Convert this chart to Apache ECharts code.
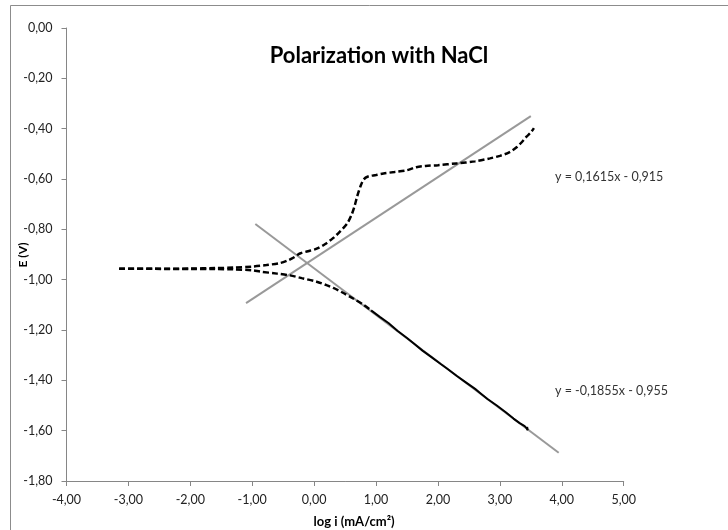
<!DOCTYPE html>
<html>
<head>
<meta charset="utf-8">
<script src="https://cdn.jsdelivr.net/npm/echarts@6/dist/echarts.min.js"></script>
<style>html,body{margin:0;padding:0;background:#fff;}#chart{width:728px;height:530px;}</style>
</head>
<body>
<div id="chart"></div>
<script>
// x ticks / y ticks
const xTicks = [-4, -3, -2, -1, 0, 1, 2, 3, 4, 5];
const yTicks = [0, -0.2, -0.4, -0.6, -0.8, -1.0, -1.2, -1.4, -1.6, -1.8];

// Anodic branch (dashed), log i vs E
const anodicX = [-3.15, -2.6, -2.0, -1.6, -1.3, -1.0, -0.77, -0.55, -0.44, -0.33, -0.23, -0.1, 0.04, 0.18, 0.31, 0.42, 0.53, 0.6, 0.65, 0.7, 0.75, 0.8, 0.87, 1.0, 1.12, 1.3, 1.5, 1.65, 1.8, 2.0, 2.3, 2.6, 2.84, 3.0, 3.15, 3.27, 3.36, 3.43, 3.5, 3.55];
const anodicE = [-0.957, -0.957, -0.956, -0.954, -0.952, -0.948, -0.942, -0.934, -0.925, -0.912, -0.896, -0.887, -0.877, -0.858, -0.834, -0.808, -0.778, -0.745, -0.71, -0.665, -0.628, -0.602, -0.59, -0.584, -0.578, -0.572, -0.565, -0.553, -0.548, -0.545, -0.538, -0.530, -0.518, -0.508, -0.494, -0.474, -0.452, -0.432, -0.415, -0.398];

// Cathodic branch, near-corrosion part (dashed)
const cathodicX = [-3.15, -2.6, -2.0, -1.6, -1.3, -1.0, -0.87, -0.6, -0.39, -0.2, 0.04, 0.2, 0.31, 0.45, 0.63, 0.8, 0.92];
const cathodicE = [-0.957, -0.957, -0.958, -0.958, -0.959, -0.963, -0.968, -0.976, -0.983, -0.994, -1.008, -1.022, -1.033, -1.05, -1.075, -1.1, -1.122];

// Cathodic branch, Tafel region (dense data, looks solid)
const tafelX = [0.92, 1.06, 1.2, 1.35, 1.5, 1.6, 1.75, 1.9, 2.05, 2.14, 2.3, 2.45, 2.6, 2.68, 2.8, 2.95, 3.1, 3.22, 3.32, 3.4, 3.43, 3.45, 3.44];
const tafelE = [-1.122, -1.148, -1.172, -1.204, -1.232, -1.252, -1.282, -1.309, -1.336, -1.352, -1.382, -1.408, -1.434, -1.450, -1.474, -1.5, -1.528, -1.552, -1.570, -1.582, -1.590, -1.598, -1.585];

// Linear fit lines (end points)
const fitAnodicX = [-1.1, 3.5];
const fitAnodicE = [-1.093, -0.350];
const fitCathodicX = [-0.95, 3.95];
const fitCathodicE = [-0.779, -1.688];

const eqAnodic = 'y = 0,1615x - 0,915';
const eqCathodic = 'y = -0,1855x - 0,955';
const yTitle = 'E (V)';
const xTitle = 'log i (mA/cm²)';

const zip = (xs, ys) => xs.map((x, i) => [x, ys[i]]);
const fmt = v => (Math.abs(v) < 1e-9 ? 0 : v).toFixed(2).replace('.', ',');

const chart = echarts.init(document.getElementById('chart'), null, {renderer: 'canvas'});
const fontFam = 'Lato, "Open Sans", sans-serif';
const axisColor = '#868686';

chart.setOption({
  animation: false,
  backgroundColor: '#fff',
  title: {
    text: 'Polarization with NaCl',
    left: 374, top: 40, textAlign: 'center',
    textStyle: {fontFamily: fontFam, fontWeight: 'bold', fontSize: 22, color: '#000'}
  },
  grid: {left: 66.5, right: 104.3, top: 28, bottom: 49, containLabel: false, outerBoundsMode: 'none'},
  xAxis: {
    type: 'value', min: -4, max: 5, interval: 1,
    name: xTitle, nameLocation: 'middle', nameGap: 34,
    nameTextStyle: {fontFamily: fontFam, fontWeight: 'bold', fontSize: 13, color: '#000', padding: [0, 0, 0, 18], verticalAlign: 'top'},
    axisLine: {onZero: false, lineStyle: {color: axisColor, width: 1}},
    axisTick: {show: true, inside: false, length: 5, lineStyle: {color: axisColor}},
    axisLabel: {formatter: fmt, margin: 12, fontFamily: fontFam, fontSize: 12.5, color: '#222'},
    splitLine: {show: false}
  },
  yAxis: {
    type: 'value', min: -1.8, max: 0, interval: 0.2,
    axisLine: {show: true, onZero: false, lineStyle: {color: axisColor, width: 1}},
    axisTick: {show: true, inside: false, length: 5, lineStyle: {color: axisColor}},
    axisLabel: {formatter: fmt, margin: 14, fontFamily: fontFam, fontSize: 12.5, color: '#222'},
    splitLine: {show: false}
  },
  series: [
    {type: 'line', data: zip(fitAnodicX, fitAnodicE), symbol: 'none', lineStyle: {color: '#999', width: 2}, z: 2},
    {type: 'line', data: zip(fitCathodicX, fitCathodicE), symbol: 'none', lineStyle: {color: '#999', width: 2}, z: 2},
    {type: 'line', data: zip(anodicX, anodicE), symbol: 'none', smooth: 0.3, lineStyle: {color: '#000', width: 2.5, type: [6, 3]}, z: 3},
    {type: 'line', data: zip(cathodicX, cathodicE), symbol: 'none', smooth: 0.3, lineStyle: {color: '#000', width: 2.5, type: [6, 3]}, z: 3},
    {type: 'line', data: zip(tafelX, tafelE), symbol: 'none', lineStyle: {color: '#000', width: 2}, z: 3}
  ],
  graphic: [
    {type: 'rect', silent: true, shape: {x: 10.5, y: 5.5, width: 900, height: 700}, style: {fill: null, stroke: '#8c8c8c', lineWidth: 1}, z: -10},
    {type: 'text', x: 23, y: 255, rotation: Math.PI / 2, style: {text: yTitle, font: 'bold 12px Lato, sans-serif', fill: '#000', align: 'center', verticalAlign: 'middle'}},
    {type: 'text', left: 555, top: 170, style: {text: eqAnodic, font: '12.5px Lato, sans-serif', fill: '#333'}},
    {type: 'text', left: 555, top: 384, style: {text: eqCathodic, font: '12.5px Lato, sans-serif', fill: '#333'}}
  ]
});
</script>
</body>
</html>
